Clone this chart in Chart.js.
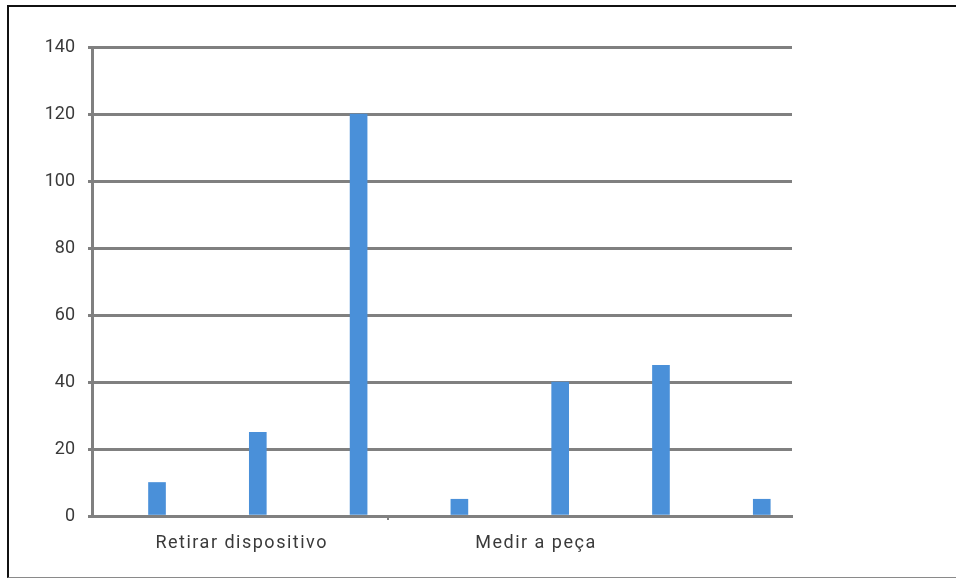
<!DOCTYPE html>
<html>
<head>
<meta charset="utf-8">
<script src="https://cdn.jsdelivr.net/npm/chart.js@4.4.1/dist/chart.umd.min.js"></script>
<style>
  html, body { margin: 0; padding: 0; background: #fff; }
  #wrap { position: relative; width: 956px; height: 578px; overflow: hidden; }
  #frame {
    position: absolute; left: 7px; top: 5px; width: 960px; height: 570px;
    border-top: 2px solid #111; border-left: 2px solid #111; border-bottom: 1px solid #8a8a8a;
    pointer-events: none;
  }
  canvas { position: absolute; left: 0; top: 0; }
</style>
</head>
<body>
<div id="wrap">
  <canvas id="c" width="956" height="578"></canvas>
  <div id="frame"></div>
</div>
<script>
// Bar values, in the order they appear along the axis
const barPositions = [0, 1, 2, 3, 4, 5, 6];
const barValues = [10, 25, 120, 5, 40, 45, 5];

// Group captions along the horizontal axis and where they sit (axis units)
const groupLabels = ['Retirar dispositivo', 'Medir a peça'];
const groupLabelAt = [0.84, 3.76];
const groupSeparatorAt = 2.29;

// Vertical axis ticks
const yTicks = [0, 20, 40, 60, 80, 100, 120, 140];

const gridGray = '#808080';
const textGray = '#3a3a3a';
const barBlue = '#4a90d9';

const xTickValues = [groupSeparatorAt, ...groupLabelAt];

// Wraps the x axis label drawing so the captions get a little tracking
function spacedLabels(scale) {
  if (scale._spaced) return;
  scale._spaced = true;
  const orig = scale.drawLabels.bind(scale);
  scale.drawLabels = function (area) {
    const ctx = this.ctx;
    const prev = ctx.letterSpacing;
    ctx.letterSpacing = '1.5px';
    orig(area);
    ctx.letterSpacing = prev || '0px';
  };
}

new Chart(document.getElementById('c'), {
  type: 'bar',
  data: {
    datasets: [{
      data: barPositions.map((x, i) => ({ x: x, y: barValues[i] })),
      backgroundColor: barBlue,
      borderWidth: 0,
      barThickness: 17
    }]
  },
  options: {
    responsive: false,
    animation: false,
    layout: { padding: { left: 0, right: 164, top: 47, bottom: 0 } },
    plugins: { legend: { display: false }, tooltip: { enabled: false } },
    scales: {
      x: {
        type: 'linear',
        offset: false,
        min: -0.645,
        max: 6.3,
        afterFit: s => { s.height = 62; },
        afterUpdate: spacedLabels,
        afterBuildTicks: s => { s.ticks = xTickValues.map(v => ({ value: v })); },
        ticks: {
          autoSkip: false,
          maxRotation: 0,
          padding: 13,
          color: textGray,
          font: { family: 'Roboto', size: 18 },
          callback: (v) => {
            const i = groupLabelAt.indexOf(v);
            return i >= 0 ? groupLabels[i] : '';
          }
        },
        grid: {
          offset: false,
          drawOnChartArea: false,
          drawTicks: true,
          tickLength: 4,
          lineWidth: 2,
          color: ctx => (ctx.tick && ctx.tick.value === groupSeparatorAt) ? gridGray : 'rgba(0,0,0,0)'
        },
        border: { display: true, color: gridGray, width: 3 }
      },
      y: {
        min: 0,
        max: 140,
        afterFit: s => { s.width = 92; },
        afterBuildTicks: s => { s.ticks = yTicks.map(v => ({ value: v })); },
        ticks: {
          padding: 13,
          color: textGray,
          font: { family: 'Roboto', size: 18 }
        },
        grid: {
          color: gridGray,
          lineWidth: 3,
          tickLength: 4
        },
        border: { display: true, color: gridGray, width: 3 }
      }
    }
  }
});
</script>
</body>
</html>
